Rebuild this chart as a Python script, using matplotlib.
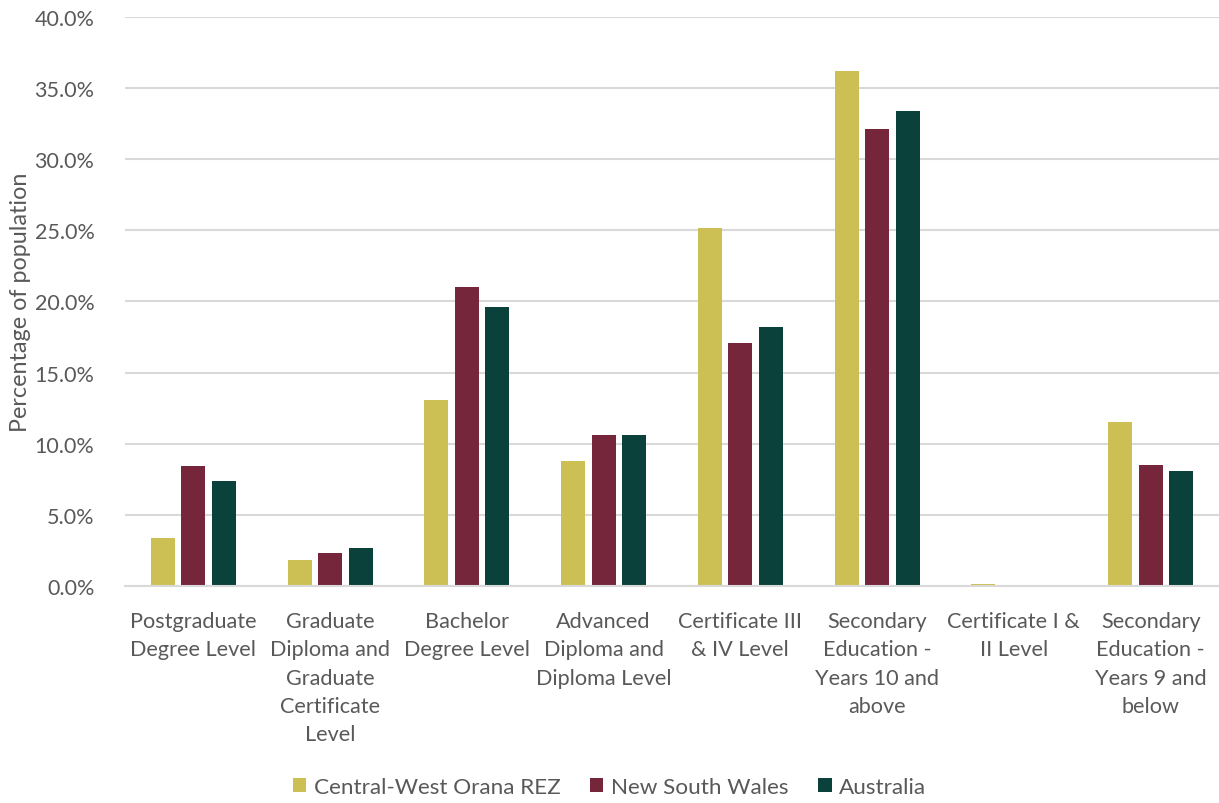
import matplotlib.pyplot as plt
import numpy as np

plt.rcParams['font.family'] = ['Lato', 'DejaVu Sans']

categories = [
    "Postgraduate\nDegree Level",
    "Graduate\nDiploma and\nGraduate\nCertificate\nLevel",
    "Bachelor\nDegree Level",
    "Advanced\nDiploma and\nDiploma Level",
    "Certificate III\n& IV Level",
    "Secondary\nEducation -\nYears 10 and\nabove",
    "Certificate I &\nII Level",
    "Secondary\nEducation -\nYears 9 and\nbelow",
]
central_west = [3.4, 1.8, 13.1, 8.8, 25.2, 36.2, 0.15, 11.5]
nsw = [8.4, 2.3, 21.0, 10.6, 17.1, 32.1, 0.0, 8.5]
australia = [7.4, 2.7, 19.6, 10.6, 18.2, 33.4, 0.0, 8.1]

series = [
    ("Central-West Orana REZ", central_west, "#CCC055"),
    ("New South Wales", nsw, "#75263A"),
    ("Australia", australia, "#0B413B"),
]

text_col = "#595959"
grid_col = "#D9D9D9"

fig = plt.figure(figsize=(12.19, 8.04), dpi=100)
ax = fig.add_axes([0.1025, 0.27, 0.8975, 0.7076])

x = np.arange(len(categories))
step = 0.223
width = 0.175
for i, (name, vals, col) in enumerate(series):
    ax.bar(x + (i - 1) * step, vals, width, color=col, label=name, zorder=3)

ax.set_xlim(-0.5, len(categories) - 0.5)
ax.set_ylim(0, 40)
ax.set_yticks(np.arange(0, 40.1, 5))
ax.set_yticklabels([f"{v:.1f}%" for v in np.arange(0, 40.1, 5)])
ax.yaxis.grid(True, color=grid_col, linewidth=1.5, zorder=0)
ax.set_xticks(x)
ax.set_xticklabels(categories, linespacing=1.52, va="top", fontsize=15.6)

for s in ["top", "right", "left"]:
    ax.spines[s].set_visible(False)
ax.spines["bottom"].set_color(grid_col)
ax.spines["bottom"].set_linewidth(1.5)
ax.spines["bottom"].set_zorder(4)

ax.tick_params(axis="both", length=0, labelcolor=text_col)
ax.tick_params(axis="y", labelsize=15.5, pad=22)
ax.tick_params(axis="x", pad=18)

# axis title placed in figure coordinates so it stays inside the canvas
fig.text(21 / 1219, 1 - 302 / 804, "Percentage of population", rotation=90,
         ha="center", va="center", fontsize=16.8, color=text_col)

fig.legend(loc="lower center", bbox_to_anchor=(0.5, -0.018), ncol=3, frameon=False,
           fontsize=16.2, labelcolor=text_col, handlelength=0.6, handleheight=0.6,
           handletextpad=0.35, columnspacing=1.3)

fig.savefig("out.png", dpi=100)
